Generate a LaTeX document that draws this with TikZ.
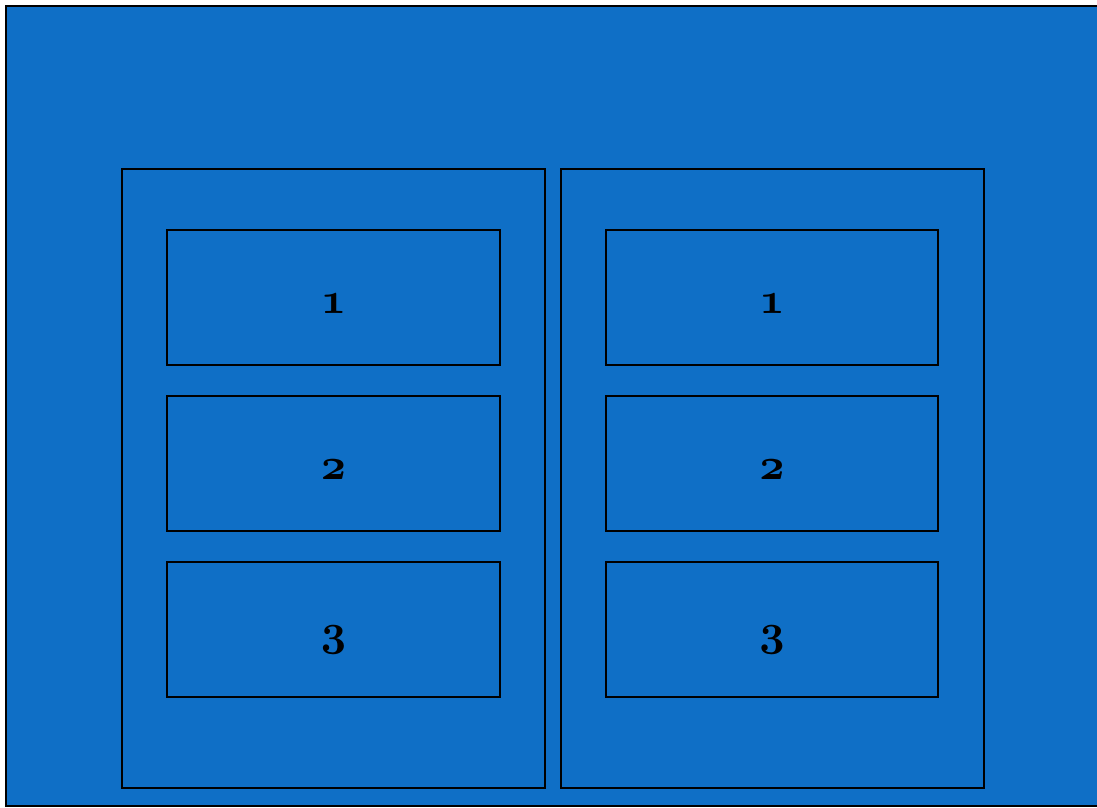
\documentclass[tikz,border=0pt]{standalone}
\definecolor{bg}{HTML}{0F6FC6}
\font\osfont=cmmib10 at 44pt
\newcommand{\osnum}[1]{{\osfont #1}}
\tikzset{
  panel/.style={draw=black, line width=1.5pt},
  cell/.style={draw=black, line width=1.5pt},
  num/.style={anchor=base, text=black, inner sep=0pt}
}
\begin{document}
\begin{tikzpicture}[x=1pt,y=-1pt]
\useasboundingbox (0,0) rectangle (1097,807);
\fill[white] (0,0) rectangle (1097,807);
\begin{scope}
\clip (0,0) rectangle (1097,807);
\draw[fill=bg, line width=2pt] (6,6) rectangle (1104,806);
\end{scope}
\draw[panel] (122,169) rectangle (545,788);
\draw[panel] (561,169) rectangle (984,788);
\foreach \side/\xa/\xb in {L/167/500, R/606/938} {
  \foreach \i/\ya/\yb in {1/230/365, 2/396/531, 3/562/697} {
    \draw[cell] (\xa,\ya) rectangle (\xb,\yb);
    \node[num] (\side\i) at ({(\xa+\xb)/2},{(\ya+\yb)/2+16}) {\osnum{\i}};
  }
}
\end{tikzpicture}
\end{document}
